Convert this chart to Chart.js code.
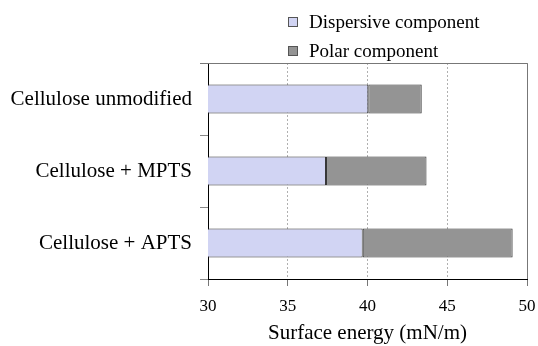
<!DOCTYPE html>
<html>
<head>
<meta charset="utf-8">
<script src="https://cdn.jsdelivr.net/npm/chart.js@4/dist/chart.umd.min.js"></script>
<style>
html,body{margin:0;padding:0;background:#fff;}
#wrap{width:538px;height:346px;}
</style>
</head>
<body>
<div id="wrap"><canvas id="c" width="538" height="346"></canvas></div>
<script>
const categories = ["Cellulose unmodified", "Cellulose + MPTS", "Cellulose + APTS"];
const dispersive = [40.05, 37.4, 39.7];
const polar = [3.35, 6.3, 9.4];
const xTicks = [30, 35, 40, 45, 50];
const seriesNames = ["Dispersive component", "Polar component"];
const axisTitle = "Surface energy (mN/m)";

const FONT = "'Liberation Serif', 'Times New Roman', serif";

const legendPlugin = {
  id: 'customLegend',
  afterDraw(chart) {
    const ctx = chart.ctx;
    ctx.save();
    ctx.font = "19px " + FONT;
    ctx.textBaseline = 'alphabetic';
    ctx.textAlign = 'left';
    const rows = [28, 57];
    chart.data.datasets.forEach((ds, i) => {
      const by = rows[i] - 11;
      ctx.fillStyle = ds.backgroundColor;
      ctx.fillRect(288.5, by + 0.5, 9, 9);
      ctx.strokeStyle = '#555';
      ctx.lineWidth = 1;
      ctx.strokeRect(288.5, by + 0.5, 9, 9);
      ctx.fillStyle = '#000';
      ctx.fillText(ds.label, 309, rows[i]);
    });
    ctx.restore();
  }
};

const borderPlugin = {
  id: 'frame',
  afterDatasetsDraw(chart) {
    const a = chart.chartArea;
    const ctx = chart.ctx;
    ctx.save();
    ctx.strokeStyle = '#777';
    ctx.lineWidth = 1;
    ctx.beginPath();
    ctx.moveTo(a.left - 8, Math.round(a.top) + 0.5);
    ctx.lineTo(Math.round(a.right) + 0.5, Math.round(a.top) + 0.5);
    ctx.lineTo(Math.round(a.right) + 0.5, a.bottom);
    ctx.stroke();
    ctx.restore();
  }
};

new Chart(document.getElementById('c'), {
  type: 'bar',
  data: {
    labels: categories,
    datasets: [
      {
        label: seriesNames[0],
        data: dispersive,
        backgroundColor: '#d1d4f3',
        borderColor: '#333',
        borderWidth: 1,
        borderSkipped: false
      },
      {
        label: seriesNames[1],
        data: polar,
        backgroundColor: '#949494',
        borderColor: '#333',
        borderWidth: 1,
        borderSkipped: false
      }
    ]
  },
  options: {
    indexAxis: 'y',
    responsive: false,
    animation: false,
    devicePixelRatio: 1,
    layout: { padding: { top: 63, right: 11, left: 0, bottom: 0 } },
    datasets: { bar: { categoryPercentage: 1, barPercentage: 0.4 } },
    plugins: {
      legend: { display: false },
      tooltip: { enabled: false }
    },
    scales: {
      x: {
        stacked: true,
        min: 30,
        max: 50,
        afterBuildTicks(scale) { scale.ticks = xTicks.map(v => ({ value: v })); },
        afterFit(scale) { scale.height = 67; scale.paddingLeft = 0; scale.paddingRight = 0; },
        border: { color: '#000', width: 1, dash: [2, 2] },
        grid: {
          color: '#b0b0b0',
          tickColor: '#777',
          tickBorderDash: [],
          tickLength: 7
        },
        ticks: {
          color: '#000',
          font: { family: FONT, size: 17 },
          padding: 10,
          maxRotation: 0
        },
        title: {
          display: true,
          text: axisTitle,
          color: '#000',
          font: { family: FONT, size: 21 },
          padding: { top: 2, bottom: 0 }
        }
      },
      y: {
        stacked: true,
        afterFit(scale) { scale.width = 208; },
        border: { color: '#000', width: 1 },
        grid: {
          offset: true,
          drawOnChartArea: false,
          tickColor: '#888',
          tickLength: 8
        },
        ticks: {
          color: '#000',
          font: { family: FONT, size: 21 },
          padding: 8
        }
      }
    }
  },
  plugins: [legendPlugin, borderPlugin]
});
</script>
</body>
</html>
